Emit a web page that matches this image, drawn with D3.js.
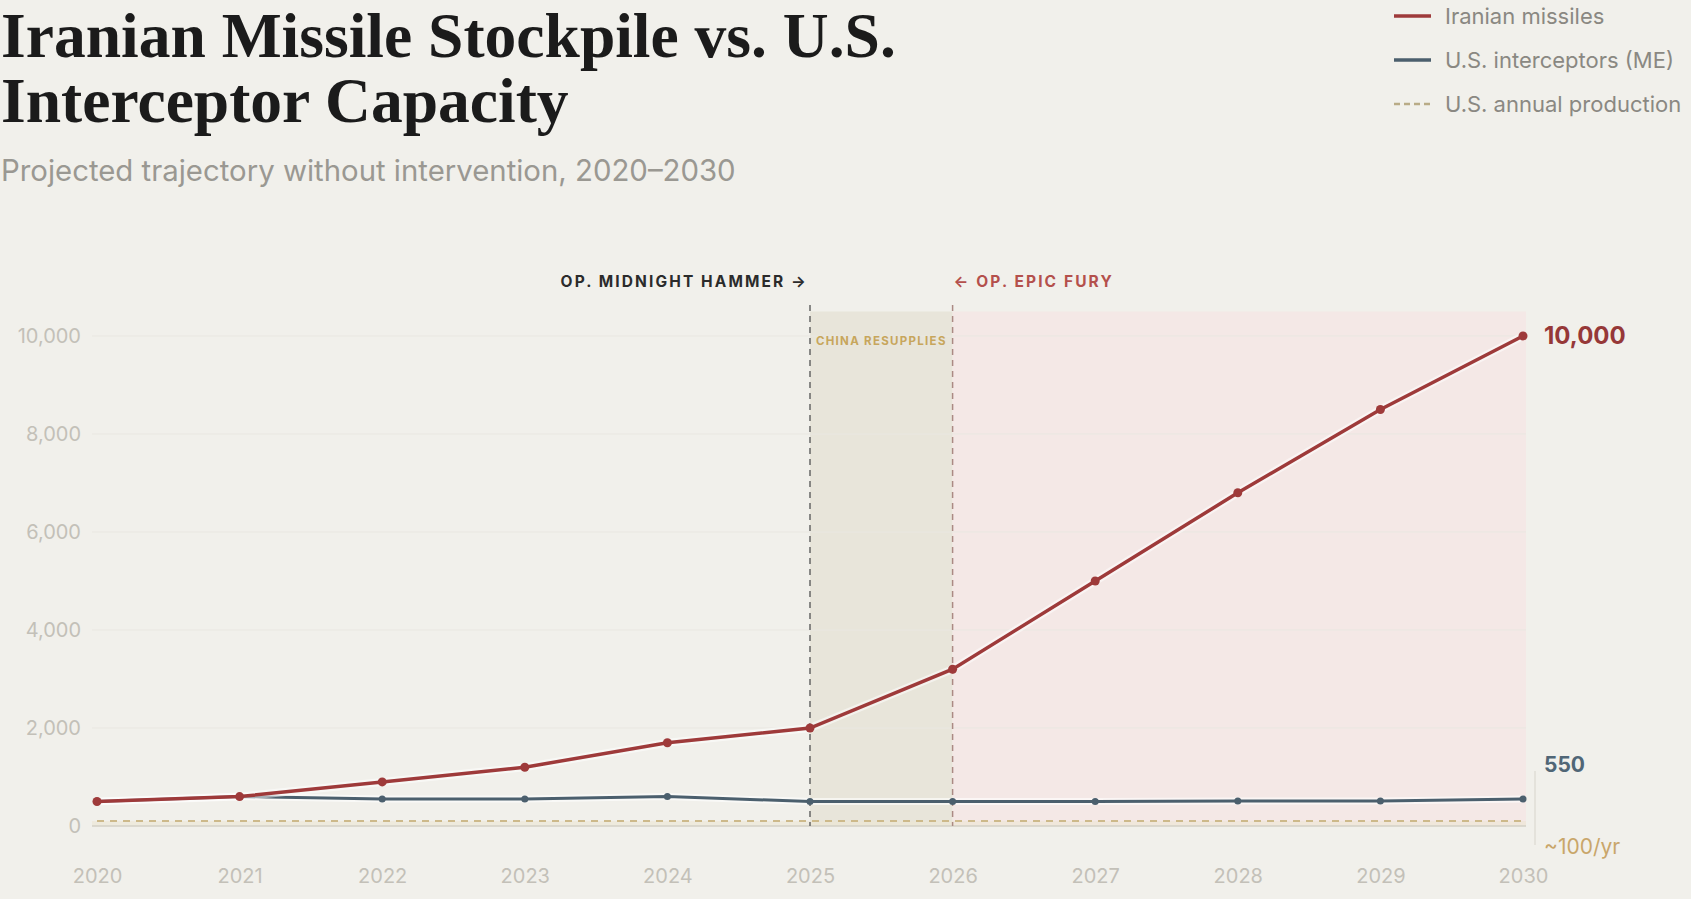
<!DOCTYPE html>
<html>
<head>
<meta charset="utf-8">
<script src="https://cdn.jsdelivr.net/npm/d3@7"></script>
<style>
  html, body { margin: 0; padding: 0; background: #f1f0eb; }
  svg { display: block; }
</style>
</head>
<body>
<svg id="chart" width="1691" height="899"></svg>
<script>
// ---- Data ----
const years = [2020, 2021, 2022, 2023, 2024, 2025, 2026, 2027, 2028, 2029, 2030];
const iranianMissiles = [500, 600, 900, 1200, 1700, 2000, 3200, 5000, 6800, 8500, 10000];
const usInterceptors = [500, 600, 550, 550, 600, 500, 500, 500, 510, 510, 550];
const usAnnualProduction = [100, 100, 100, 100, 100, 100, 100, 100, 100, 100, 100];
const yTicks = [0, 2000, 4000, 6000, 8000, 10000];
const legendLabels = ["Iranian missiles", "U.S. interceptors (ME)", "U.S. annual production"];
const titleLines = ["Iranian Missile Stockpile vs. U.S.", "Interceptor Capacity"];
const subtitle = "Projected trajectory without intervention, 2020\u20132030";
const events = { hammer: 2025, fury: 2026, bandEnd: 2030, bandTop: 10500 };

const colors = {
  bg: "#f1f0eb", red: "#9e3a3a", blue: "#4b5f6d", prod: "#cdb98a",
  grid: "#e9e7e1", tick: "#c3c0b8", beige: "#e8e5da", pink: "#f4e8e6"
};
const sans = "Inter, 'Noto Sans', sans-serif";
const serif = "'Liberation Serif', 'DejaVu Serif', serif";

const svg = d3.select("#chart");
svg.append("rect").attr("width", 1691).attr("height", 899).attr("fill", colors.bg);

const x = d3.scaleLinear().domain([2020, 2030]).range([97, 1523]);
const y = d3.scaleLinear().domain([0, 10000]).range([826, 336]);

// ---- Title & subtitle ----
function fit(sel, target) {
  const w = sel.node().getComputedTextLength();
  const fs = parseFloat(sel.attr("font-size"));
  sel.attr("font-size", fs * target / w);
}
const t1 = svg.append("text").attr("x", 1).attr("y", 57).text(titleLines[0])
  .attr("font-family", serif).attr("font-weight", 700).attr("font-size", 64).attr("fill", "#1b1b1b");
fit(t1, 895);
svg.append("text").attr("x", 1).attr("y", 122).text(titleLines[1])
  .attr("font-family", serif).attr("font-weight", 700).attr("font-size", t1.attr("font-size")).attr("fill", "#1b1b1b");
const st = svg.append("text").attr("x", 1).attr("y", 181).text(subtitle)
  .attr("font-family", sans).attr("font-size", 26).attr("fill", "#9a9892");
fit(st, 735);

// ---- Legend ----
const legend = svg.append("g");
legendLabels.forEach((lab, i) => {
  const ly = 16 + i * 44;
  const ln = legend.append("line").attr("x1", 1394).attr("x2", 1431).attr("y1", ly).attr("y2", ly)
    .attr("stroke-width", i === 2 ? 2.5 : 3.5);
  if (i === 0) ln.attr("stroke", colors.red);
  if (i === 1) ln.attr("stroke", colors.blue);
  if (i === 2) ln.attr("stroke", "#b9ab86").attr("stroke-dasharray", "6,4");
  legend.append("text").attr("x", 1445).attr("y", ly).attr("dy", "0.35em").text(lab)
    .attr("font-family", sans).attr("font-size", 22).attr("fill", "#8a8882");
});

// ---- Bands ----
const bandTop = y(events.bandTop);
svg.append("rect").attr("x", x(events.hammer)).attr("y", bandTop)
  .attr("width", x(events.fury) - x(events.hammer)).attr("height", y(0) - bandTop).attr("fill", colors.beige);
svg.append("rect").attr("x", x(events.fury)).attr("y", bandTop)
  .attr("width", x(events.bandEnd) + 3 - x(events.fury)).attr("height", y(0) - bandTop).attr("fill", colors.pink);

// ---- Grid & y axis ----
const yAxis = d3.axisLeft(y).tickValues(yTicks).tickSize(0).tickPadding(0).tickFormat(d3.format(","));
const ga = svg.append("g").attr("transform", "translate(81,0)").call(yAxis);
ga.select(".domain").remove();
ga.selectAll("text").attr("font-family", sans).attr("font-size", 20).attr("fill", colors.tick);
svg.append("g").selectAll("line").data(yTicks.filter(d => d > 0)).join("line")
  .attr("x1", 92).attr("x2", 1526).attr("y1", d => y(d)).attr("y2", d => y(d))
  .attr("stroke", colors.grid).attr("stroke-width", 1);
svg.append("rect").attr("x", 92).attr("y", y(usAnnualProduction[0])).attr("width", 1434)
  .attr("height", y(0) - y(usAnnualProduction[0])).attr("fill", "#ece6d3").attr("opacity", 0.6);
svg.append("line").attr("x1", 92).attr("x2", 1526).attr("y1", y(0)).attr("y2", y(0))
  .attr("stroke", "#d3d0c6").attr("stroke-width", 1.5);

// ---- x axis ----
const xAxis = d3.axisBottom(x).tickValues(years).tickSize(0).tickPadding(0).tickFormat(d3.format("d"));
const gx = svg.append("g").attr("transform", "translate(0,869)").call(xAxis);
gx.select(".domain").remove();
gx.selectAll("text").attr("font-family", sans).attr("font-size", 20).attr("fill", colors.tick);

// ---- Event lines ----
svg.append("line").attr("x1", x(events.hammer)).attr("x2", x(events.hammer))
  .attr("y1", 305).attr("y2", y(0)).attr("stroke", "#666666").attr("stroke-width", 1.5).attr("stroke-dasharray", "6,5");
svg.append("line").attr("x1", x(events.fury)).attr("x2", x(events.fury))
  .attr("y1", 305).attr("y2", y(0)).attr("stroke", "#ab8a84").attr("stroke-width", 1.5).attr("stroke-dasharray", "6,5");

svg.append("text").attr("x", x(events.hammer) - 2).attr("y", 282).attr("dy", "0.35em").attr("text-anchor", "end")
  .text("OP. MIDNIGHT HAMMER \u2192").attr("font-family", sans).attr("font-weight", 700)
  .attr("font-size", 15.5).attr("letter-spacing", "2.1px").attr("fill", "#2b2b2b");
svg.append("text").attr("x", x(events.fury) + 1).attr("y", 282).attr("dy", "0.35em")
  .text("\u2190 OP. EPIC FURY").attr("font-family", sans).attr("font-weight", 700)
  .attr("font-size", 15.5).attr("letter-spacing", "2.1px").attr("fill", "#b4504c");
svg.append("text").attr("x", (x(events.hammer) + x(events.fury)) / 2).attr("y", 341).attr("dy", "0.35em")
  .attr("text-anchor", "middle").text("CHINA RESUPPLIES").attr("font-family", sans).attr("font-weight", 700)
  .attr("font-size", 11.5).attr("letter-spacing", "1.3px").attr("fill", "#c7a65c");

// ---- Lines ----
const line = d3.line().x((d, i) => x(years[i])).y(d => y(d));
svg.append("path").datum(usAnnualProduction).attr("d", line).attr("fill", "none")
  .attr("stroke", colors.prod).attr("stroke-width", 2).attr("stroke-dasharray", "7,6");

svg.append("path").datum(usInterceptors).attr("d", line).attr("fill", "none")
  .attr("stroke", "#ffffff").attr("stroke-opacity", 0.6).attr("stroke-width", 7);
svg.append("path").datum(usInterceptors).attr("d", line).attr("fill", "none")
  .attr("stroke", colors.blue).attr("stroke-width", 3);
svg.append("g").selectAll("circle").data(usInterceptors).join("circle")
  .attr("cx", (d, i) => x(years[i])).attr("cy", d => y(d)).attr("r", 3.5).attr("fill", colors.blue);

svg.append("path").datum(iranianMissiles).attr("d", line).attr("fill", "none")
  .attr("stroke", "#ffffff").attr("stroke-opacity", 0.5).attr("stroke-width", 8);
svg.append("path").datum(iranianMissiles).attr("d", line).attr("fill", "none")
  .attr("stroke", colors.red).attr("stroke-width", 3.5);
svg.append("g").selectAll("circle").data(iranianMissiles).join("circle")
  .attr("cx", (d, i) => x(years[i])).attr("cy", d => y(d)).attr("r", 4.5).attr("fill", colors.red);

// ---- End labels ----
const last = years.length - 1;
svg.append("text").attr("x", 1544).attr("y", y(iranianMissiles[last])).attr("dy", "0.35em")
  .text(d3.format(",")(iranianMissiles[last])).attr("font-family", sans).attr("font-weight", 700)
  .attr("font-size", 24).attr("fill", "#963838");
svg.append("line").attr("x1", 1535).attr("x2", 1535).attr("y1", 771).attr("y2", 845)
  .attr("stroke", "#dcd9d0").attr("stroke-width", 1.2);
svg.append("text").attr("x", 1544).attr("y", 765).attr("dy", "0.35em")
  .text(d3.format(",")(usInterceptors[last])).attr("font-family", sans).attr("font-weight", 700)
  .attr("font-size", 21).attr("fill", "#506676");
svg.append("text").attr("x", 1544).attr("y", 847).attr("dy", "0.35em")
  .text("~" + usAnnualProduction[last] + "/yr").attr("font-family", sans)
  .attr("font-size", 21).attr("fill", "#c9a66a");
</script>
</body>
</html>
